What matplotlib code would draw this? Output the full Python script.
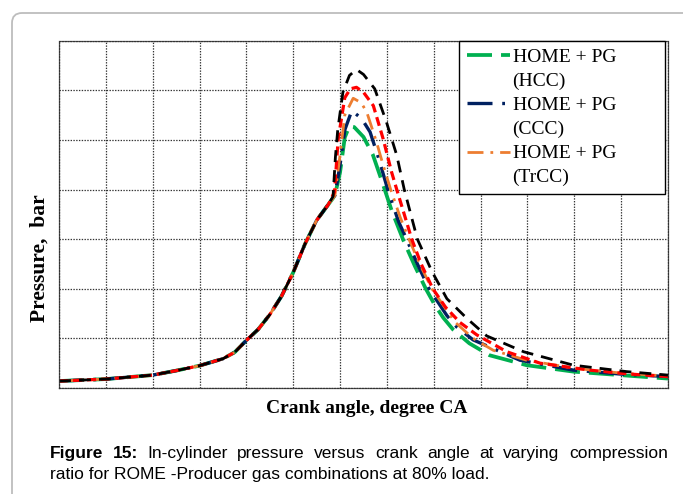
import matplotlib

matplotlib.use("Agg")
import matplotlib.pyplot as plt
from matplotlib.lines import Line2D
from matplotlib.patches import FancyBboxPatch
from matplotlib.transforms import IdentityTransform

plt.rcParams["lines.scale_dashes"] = False

# compression stroke, common to every run (crank angle in deg, pressure in bar)
theta_comp = [-60, -50, -40, -35, -30, -25, -22.5, -20, -17.5, -15, -12.5, -10, -7.5, -5, -2.5]
p_comp = [1.4, 1.8, 2.6, 3.5, 4.5, 5.9, 7.2, 9.6, 11.8, 14.8, 18.5, 23.3, 29.0, 33.8, 37.0]

# combustion / expansion for each compression ratio
theta_hcc = [-1.1, 0, 1, 2, 3, 5, 7, 9, 11, 13.5, 16, 18.3, 20.3, 22, 24.1, 27.6, 31.9, 39.8, 49.8, 56.9, 70]
p_hcc = [38.8, 43.5, 50.5, 52.8, 52.6, 50.6, 47.0, 41.5, 35.8, 29.8, 24.5, 20.0, 16.6, 14.2, 11.8, 9.0, 6.6, 4.6, 3.3, 2.8, 1.9]

theta_ccc = [-1.1, 0, 1, 2.5, 4.6, 6.4, 8.2, 10.3, 12.5, 14.2, 16.5, 19.0, 22.8, 24.9, 28.4, 38.4, 49.8, 60, 70]
p_ccc = [38.8, 45.0, 52.0, 55.9, 54.3, 51.6, 46.4, 39.6, 33.5, 30.0, 25.0, 20.0, 14.6, 12.3, 9.7, 5.6, 3.6, 2.8, 2.3]

theta_trcc = [-1.1, 0, 1, 2.8, 4.5, 5.7, 7.8, 9.2, 10.8, 12.8, 14.7, 17, 19.6, 24.5, 28.4, 32.7, 39.8, 49.8, 60, 70]
p_trcc = [38.8, 47.0, 55.0, 58.4, 57.5, 55.6, 49.5, 44.9, 40.0, 34.5, 30.0, 25.0, 20.0, 13.3, 10.0, 7.6, 5.6, 4.0, 3.0, 2.4]

theta_red = [-1.2, -0.4, 1.0, 2.2, 3.5, 5, 7.1, 9.2, 11, 12.1, 15.3, 17.3, 19.8, 22.5, 25.6, 29.2, 35.6, 42.7, 53.3, 62, 70]
p_red = [39.5, 50.2, 58.5, 60.3, 60.6, 59.6, 56.9, 50.2, 43.5, 40.0, 30.0, 25.0, 20.0, 16.3, 13.2, 10.7, 7.3, 5.0, 3.6, 2.8, 2.3]

theta_blk = [-1.5, -1.0, -0.5, 0.6, 2, 3.5, 5, 7.4, 9.9, 12.1, 13.7, 16.5, 19.6, 22.8, 27.1, 31.3, 39.2, 49.8, 61.2, 70]
p_blk = [38.6, 46.5, 52.0, 59.6, 63.0, 64.2, 63.2, 60.3, 53.6, 46.9, 40.0, 30.0, 23.5, 18.0, 14.0, 10.5, 7.3, 4.6, 3.3, 2.6]

fig = plt.figure(figsize=(6.83, 4.94), dpi=100)
fig.patch.set_facecolor("white")

# rounded frame round the whole figure
frame = FancyBboxPatch((0.12, -0.3), 7.0, 4.81 + 0.3, boxstyle="round,pad=0,rounding_size=0.1",
                       transform=fig.dpi_scale_trans, facecolor="none", edgecolor="#bdbdbd", lw=1.3)
fig.patches.append(frame)

ax = fig.add_axes([59 / 683, 106 / 494, 609 / 683, 347.3 / 494])

runs = [
    (theta_hcc, p_hcc, "#00b050", 2.7, (18, 6.5)),
    (theta_ccc, p_ccc, "#002060", 2.4, (18, 7, 2, 7)),
    (theta_trcc, p_trcc, "#ed7d31", 2.0, (11.5, 5, 2, 5)),
    (theta_red, p_red, "#ff0000", 2.3, (6.5, 3.6)),
    (theta_blk, p_blk, "#000000", 2.0, (8.6, 5.8)),
]
lines = []
for th, p, col, lw, dash in runs:
    (ln,) = ax.plot(theta_comp + th, p_comp + p, color=col, lw=lw, linestyle=(0, dash))
    lines.append(ln)

ax.set_xlim(-60, 70)
ax.set_ylim(0, 70)
ax.set_xticks(range(-60, 71, 10))
ax.set_yticks(range(0, 71, 10))
ax.tick_params(length=0, labelbottom=False, labelleft=False)
ax.grid(True, color="#333333", linestyle=(0, (1, 1)), linewidth=0.9)
for s in ax.spines.values():
    s.set_linestyle((0, (1, 1)))
    s.set_color("#333333")
    s.set_linewidth(0.9)

blank = Line2D([], [], linestyle="none")
leg = ax.legend(
    [lines[0], blank, lines[1], blank, lines[2], blank],
    ["HOME + PG", "(HCC)", "HOME + PG", "(CCC)", "HOME + PG", "(TrCC)"],
    loc="upper left", bbox_to_anchor=(0.657, 0.0, 0.338, 1.0), mode="expand",
    prop={"family": "Liberation Serif", "size": 14},
    handlelength=2.2, handletextpad=0.15, borderpad=0.4, labelspacing=0.33,
    borderaxespad=0, fancybox=False, framealpha=1, edgecolor="black",
)
leg.get_frame().set_linewidth(1.0)

fig.text(367 / 683, 1 - 408 / 494, "Crank angle, degree CA", ha="center", va="center",
         family="Liberation Serif", fontweight="bold", fontsize=14)
fig.text(40 / 683, 1 - 258 / 494, "Pressure,  bar", ha="center", va="center", rotation=90,
         family="Liberation Serif", fontweight="bold", fontsize=15.5)

# caption, first line justified between the margins
px = IdentityTransform()
renderer = fig.canvas.get_renderer()
cap_kw = dict(transform=px, family="Liberation Sans", fontsize=12.5, va="baseline")
line1 = [("Figure", "bold"), ("15:", "bold")] + [
    (w, "normal") for w in "In-cylinder pressure versus crank angle at varying compression".split()]
placed = []
for word, wt in line1:
    t = fig.text(0, 0, word, fontweight=wt, **cap_kw)
    placed.append((t, t.get_window_extent(renderer).width))
x0, x1 = 50, 668
gap = (x1 - x0 - sum(w for _, w in placed)) / (len(placed) - 1)
x = x0
for t, w in placed:
    t.set_position((x, 494 - 458))
    x += w + gap
fig.text(50, 494 - 479, "ratio for ROME -Producer gas combinations at 80% load.", **cap_kw)

fig.savefig("out.png", dpi=100)
